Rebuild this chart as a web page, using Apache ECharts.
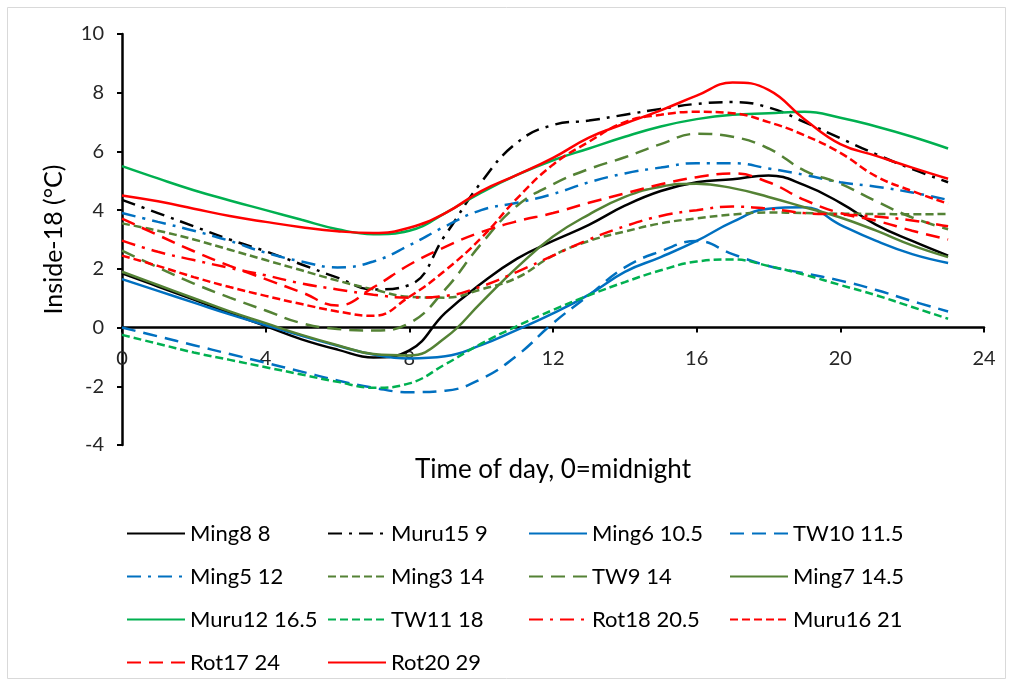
<!DOCTYPE html>
<html><head><meta charset="utf-8">
<script src="https://cdn.jsdelivr.net/npm/echarts@6/dist/echarts.min.js"></script>
<style>html,body{margin:0;padding:0;background:#fff}#c{width:1013px;height:686px}</style>
</head><body><div id="c"></div>
<script>
const hours = [0,1,2,3,4,5,6,7,8,9,10,11,12,13,14,15,16,17,18,19,20,21,22,23];
const xTicks = [0,4,8,12,16,20,24];
const yTicks = [-4,-2,0,2,4,6,8,10];

const ming8  = [1.85,1.4,0.95,0.5,0.05,-0.4,-0.75,-1.02,-0.78,0.5,1.5,2.35,2.95,3.5,4.15,4.65,4.95,5.05,5.18,4.85,4.25,3.5,2.95,2.45];
const muru15 = [4.35,3.9,3.45,3.0,2.6,2.15,1.7,1.3,1.45,3.15,4.95,6.3,6.9,7.05,7.25,7.45,7.62,7.68,7.5,7.0,6.45,5.9,5.4,4.95];
const ming6  = [1.65,1.25,0.85,0.45,0.08,-0.28,-0.62,-0.92,-1.05,-0.98,-0.6,-0.08,0.48,1.12,1.9,2.4,2.95,3.6,4.05,4.1,3.5,2.95,2.5,2.2];
const tw10   = [0.0,-0.3,-0.6,-0.9,-1.2,-1.5,-1.8,-2.05,-2.2,-2.15,-1.75,-0.95,0.15,1.1,2.05,2.6,2.95,2.5,2.1,1.85,1.6,1.28,0.9,0.55];
const ming5  = [3.9,3.6,3.3,2.95,2.55,2.25,2.05,2.25,2.8,3.45,4.0,4.25,4.55,4.95,5.25,5.45,5.6,5.6,5.42,5.2,4.95,4.8,4.6,4.35];
const ming3  = [3.55,3.3,3.0,2.65,2.3,1.95,1.6,1.3,1.05,1.02,1.3,1.7,2.45,2.95,3.27,3.55,3.72,3.85,3.92,3.9,3.88,3.87,3.86,3.87];
const tw9    = [2.62,2.05,1.5,1.02,0.58,0.15,-0.05,-0.1,0.15,1.3,2.85,4.15,4.88,5.4,5.8,6.25,6.6,6.5,6.1,5.35,4.9,4.3,3.75,3.35];
const ming7  = [1.9,1.45,1.0,0.55,0.15,-0.25,-0.6,-0.9,-0.95,-0.35,0.85,2.05,3.1,3.85,4.45,4.8,4.9,4.75,4.45,4.1,3.75,3.3,2.8,2.4];
const muru12 = [5.5,5.08,4.68,4.33,4.0,3.67,3.35,3.18,3.3,3.9,4.6,5.2,5.7,6.1,6.5,6.85,7.1,7.25,7.3,7.35,7.15,6.85,6.5,6.1];
const tw11   = [-0.25,-0.55,-0.85,-1.1,-1.35,-1.6,-1.85,-2.05,-1.9,-1.25,-0.55,0.05,0.6,1.1,1.55,1.95,2.25,2.32,2.1,1.8,1.45,1.1,0.7,0.3];
const rot18  = [2.96,2.58,2.3,2.03,1.78,1.5,1.3,1.12,1.02,1.08,1.4,1.9,2.45,3.0,3.45,3.8,4.0,4.12,4.05,3.9,3.85,3.78,3.65,3.45];
const muru16 = [2.45,2.1,1.72,1.38,1.08,0.8,0.55,0.4,1.05,1.95,3.05,4.4,5.55,6.33,7.0,7.25,7.35,7.3,7.0,6.55,5.95,5.15,4.65,4.22];
const rot17  = [3.71,3.15,2.6,2.1,1.65,1.2,0.75,1.37,2.14,2.75,3.25,3.62,3.9,4.25,4.57,4.88,5.12,5.25,4.95,4.35,3.9,3.64,3.3,3.0];
const rot20  = [4.5,4.3,4.05,3.8,3.6,3.42,3.28,3.22,3.4,3.9,4.65,5.2,5.78,6.47,6.95,7.4,7.9,8.35,8.1,7.1,6.25,5.85,5.45,5.07];

const names = ['Ming8 8','Muru15 9','Ming6 10.5','TW10 11.5','Ming5 12','Ming3 14','TW9 14','Ming7 14.5','Muru12 16.5','TW11 18','Rot18 20.5','Muru16 21','Rot17 24','Rot20 29'];
const values = [ming8, muru15, ming6, tw10, ming5, ming3, tw9, ming7, muru12, tw11, rot18, muru16, rot17, rot20];

const BLACK = '#000000', BLUE = '#0070C0', OLIVE = '#548235', GREEN = '#00B050', RED = '#FF0000';
const SOLID = 'solid', LONG = [14, 8], SHORT = [8, 4], DASHDOT = [14, 7, 3, 7];
const styles = [
  [BLACK, SOLID], [BLACK, DASHDOT], [BLUE, SOLID], [BLUE, LONG],
  [BLUE, DASHDOT], [OLIVE, SHORT], [OLIVE, LONG], [OLIVE, SOLID],
  [GREEN, SOLID], [GREEN, SHORT], [RED, DASHDOT], [RED, SHORT],
  [RED, LONG], [RED, SOLID]
];

const FONT = 'Lato, "Open Sans", "DejaVu Sans", sans-serif';

const series = names.map((n, i) => ({
  name: n,
  type: 'line',
  smooth: 0.45,
  symbol: 'none',
  showSymbol: false,
  data: hours.map((h, k) => [h, values[i][k]]),
  lineStyle: { color: styles[i][0], width: 2.5, type: styles[i][1] },
  itemStyle: { color: styles[i][0] },
  emphasis: { disabled: true },
  animation: false
}));

const chart = echarts.init(document.getElementById('c'), null, { renderer: 'canvas' });
chart.setOption({
  animation: false,
  backgroundColor: '#ffffff',
  graphic: [{
    type: 'rect', shape: { x: 7.5, y: 7.5, width: 998, height: 671 },
    style: { fill: 'none', stroke: '#d9d9d9', lineWidth: 1 }, silent: true
  }],
  grid: { left: 122, right: 29, top: 34, bottom: 241 },
  xAxis: {
    type: 'value', min: xTicks[0], max: xTicks[xTicks.length - 1], interval: 4,
    name: 'Time of day, 0=midnight', nameLocation: 'middle', nameGap: 12,
    nameTextStyle: { fontFamily: FONT, fontSize: 26, color: '#000' },
    axisLine: { onZero: true, lineStyle: { color: '#000', width: 2.5 } },
    axisTick: { show: true, length: 5, lineStyle: { color: '#000', width: 2 } },
    axisLabel: { fontFamily: FONT, fontSize: 20, color: '#262626', margin: -96 },
    splitLine: { show: false }
  },
  yAxis: {
    type: 'value', min: yTicks[0], max: yTicks[yTicks.length - 1], interval: 2,
    name: 'Inside-18 (°C)', nameLocation: 'middle', nameGap: 56,
    nameTextStyle: { fontFamily: FONT, fontSize: 25, color: '#000' },
    axisLine: { show: true, lineStyle: { color: '#000', width: 2.5 } },
    axisTick: { show: true, length: 5, lineStyle: { color: '#000', width: 2 } },
    axisLabel: { fontFamily: FONT, fontSize: 20, color: '#262626', margin: 18 },
    splitLine: { show: false }
  },
  legend: {
    data: names,
    left: 126, top: 512, width: 820,
    orient: 'horizontal',
    itemWidth: 58, itemHeight: 14, itemGap: 0, padding: 0,
    itemStyle: { opacity: 0 },
    textStyle: { fontFamily: FONT, fontSize: 22, color: '#000', width: 137, lineHeight: 43, padding: [0, 0, 0, 0] },
    selectedMode: false
  },
  series: series
});
</script>
</body></html>
